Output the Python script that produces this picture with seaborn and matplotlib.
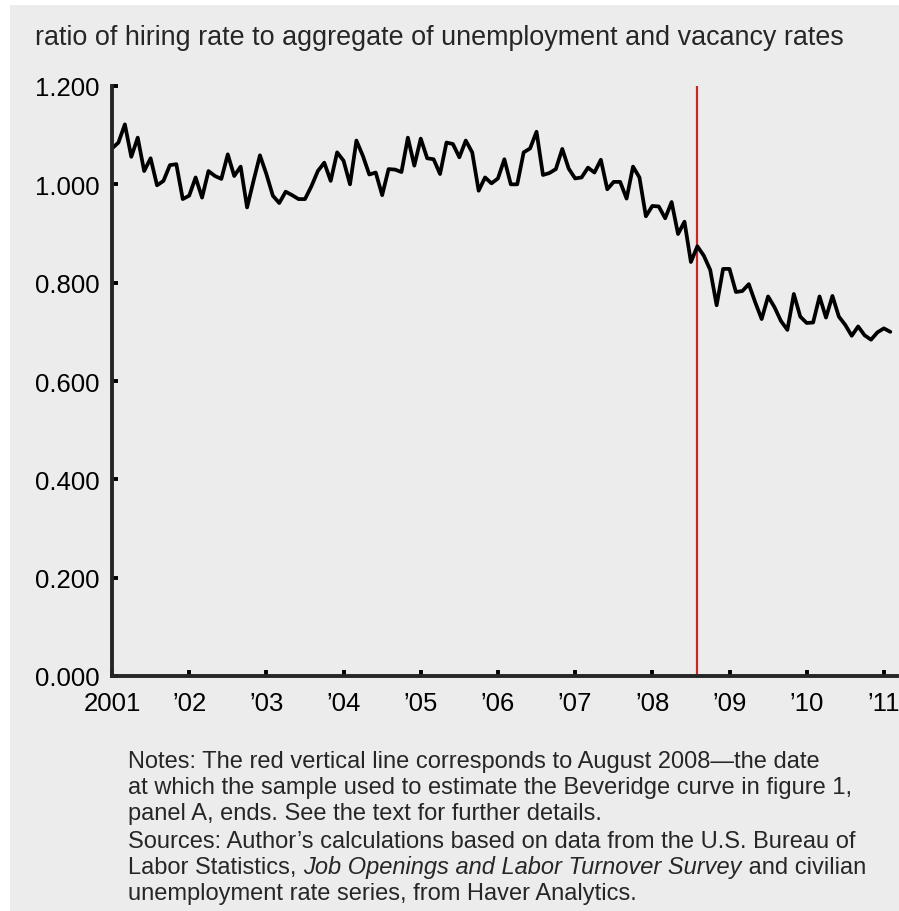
import numpy as np
import pandas as pd
import matplotlib
matplotlib.use("Agg")
from matplotlib import pyplot as plt
import seaborn as sns

# razao mensal, jan/2001 a fev/2011
razao_2001 = [1.073, 1.085, 1.122, 1.056, 1.095, 1.027, 1.053, 0.998, 1.007, 1.039, 1.041, 0.970]
razao_2002 = [0.977, 1.014, 0.973, 1.027, 1.017, 1.011, 1.061, 1.017, 1.036, 0.953, 1.007, 1.059]
razao_2003 = [1.021, 0.977, 0.962, 0.985, 0.978, 0.970, 0.970, 0.996, 1.027, 1.044, 1.007, 1.065]
razao_2004 = [1.048, 1.000, 1.089, 1.058, 1.020, 1.024, 0.978, 1.031, 1.030, 1.025, 1.095, 1.038]
razao_2005 = [1.093, 1.053, 1.051, 1.021, 1.085, 1.082, 1.055, 1.089, 1.065, 0.987, 1.014, 1.002]
razao_2006 = [1.012, 1.051, 1.000, 1.000, 1.065, 1.073, 1.107, 1.019, 1.023, 1.031, 1.072, 1.032]
razao_2007 = [1.012, 1.014, 1.034, 1.024, 1.050, 0.990, 1.005, 1.005, 0.971, 1.036, 1.014, 0.935]
razao_2008 = [0.956, 0.955, 0.931, 0.964, 0.899, 0.924, 0.842, 0.874, 0.855, 0.826, 0.754, 0.828]
razao_2009 = [0.828, 0.781, 0.783, 0.797, 0.760, 0.726, 0.772, 0.750, 0.722, 0.704, 0.777, 0.731]
razao_2010 = [0.718, 0.719, 0.772, 0.729, 0.773, 0.731, 0.714, 0.692, 0.711, 0.693, 0.684, 0.699]
razao_2011 = [0.707, 0.700]

anos_ticks = [2001, 2002, 2003, 2004, 2005, 2006, 2007, 2008, 2009, 2010, 2011]
rotulos_x = ["2001", "\u201902", "\u201903", "\u201904", "\u201905", "\u201906",
             "\u201907", "\u201908", "\u201909", "\u201910", "\u201911"]
valores_y = [0.0, 0.2, 0.4, 0.6, 0.8, 1.0, 1.2]
data_corte = "2008-08"

titulo = "ratio of hiring rate to aggregate of unemployment and vacancy rates"

razao = (razao_2001 + razao_2002 + razao_2003 + razao_2004 + razao_2005 + razao_2006
         + razao_2007 + razao_2008 + razao_2009 + razao_2010 + razao_2011)
meses = pd.date_range("2001-01-01", periods=len(razao), freq="MS")
df = pd.DataFrame({"data": meses.year + (meses.month - 1) / 12.0, "razao": razao})
corte = pd.Timestamp(data_corte)
x_corte = corte.year + (corte.month - 1) / 12.0

sns.set_style("ticks")
plt.rcParams["font.family"] = ["Liberation Sans", "DejaVu Sans"]
fundo = "#ececec"

fig = plt.figure(figsize=(8.99, 9.12), dpi=100)
fig.patch.set_facecolor("white")
fig.patches.append(plt.Rectangle((10 / 899, -0.01), 1, 1.01 - 6 / 912, transform=fig.transFigure,
                                 facecolor=fundo, edgecolor="none", zorder=-10))

ax = fig.add_axes([112 / 899, 1 - 677 / 912, 785 / 899, 590 / 912])
ax.set_facecolor(fundo)

sns.lineplot(data=df, x="data", y="razao", ax=ax, color="black", linewidth=2.7)
ax.axvline(x_corte, color="#c42a22", linewidth=1.6, zorder=1)

ax.set_xlim(2001, 2011.17)
ax.set_ylim(0, 1.2)
ax.set_xticks(anos_ticks)
ax.set_xticklabels(rotulos_x)
ax.set_yticks(valores_y)
ax.set_yticklabels(["{:.3f}".format(v) for v in valores_y])
ax.set_xlabel("")
ax.set_ylabel("")

sns.despine(ax=ax)
for lado in ["left", "bottom"]:
    ax.spines[lado].set_linewidth(2.8)
    ax.spines[lado].set_capstyle("projecting")
ax.tick_params(axis="both", direction="in", length=4, width=2.8, labelsize=18.5, colors="black")
ax.tick_params(axis="y", pad=9)
ax.tick_params(axis="x", pad=11)

fig.text(35 / 899, 1 - 38 / 912, titulo, fontsize=19.4, va="center", ha="left")

notas = ["Notes: The red vertical line corresponds to August 2008\u2014the date",
         "at which the sample used to estimate the Beveridge curve in figure 1,",
         "panel A, ends. See the text for further details."]
fonte_ini = "Sources: Author\u2019s calculations based on data from the U.S. Bureau of"
fonte_a = "Labor Statistics, "
fonte_b = "Job Openings and Labor Turnover Survey"
fonte_c = " and civilian"
fonte_fim = "unemployment rate series, from Haver Analytics."

tam = 17
x0 = 128
linhas_y = [768, 794, 820, 848, 874, 900]
for i, txt in enumerate(notas):
    fig.text(x0 / 899, 1 - linhas_y[i] / 912, txt, fontsize=tam, va="baseline", ha="left")
fig.text(x0 / 899, 1 - linhas_y[3] / 912, fonte_ini, fontsize=tam, va="baseline", ha="left")
fig.text(x0 / 899, 1 - linhas_y[5] / 912, fonte_fim, fontsize=tam, va="baseline", ha="left")

# linha com trecho em italico: posiciona as partes lado a lado
ya = 1 - linhas_y[4] / 912
t1 = fig.text(x0 / 899, ya, fonte_a, fontsize=tam, va="baseline", ha="left")
fig.canvas.draw()
bb = t1.get_window_extent()
t2 = fig.text(bb.x1 / fig.bbox.width, ya, fonte_b, fontsize=tam, va="baseline", ha="left",
              style="italic")
fig.canvas.draw()
bb = t2.get_window_extent()
fig.text(bb.x1 / fig.bbox.width, ya, fonte_c, fontsize=tam, va="baseline", ha="left")

plt.savefig("out.png", dpi=100, facecolor=fig.get_facecolor())
